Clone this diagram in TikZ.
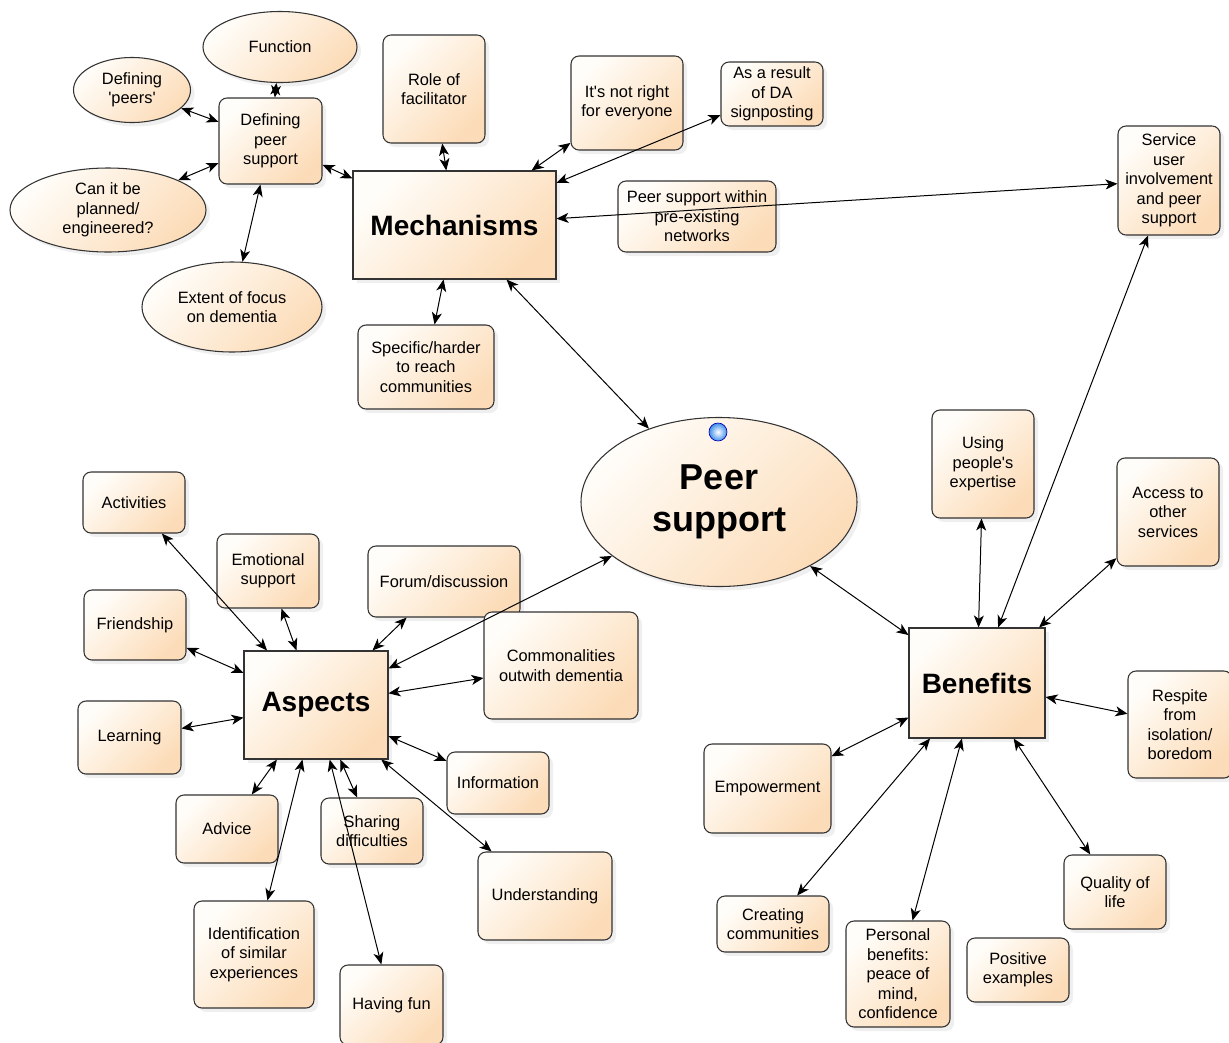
\documentclass[tikz,border=0pt]{standalone}
\usepackage{fontspec}
\setmainfont{Liberation Sans}
\usetikzlibrary{shapes.geometric,arrows.meta,shadows}
\pgfdeclarelayer{ghost}
\pgfsetlayers{ghost,main}
\definecolor{peachL}{HTML}{FFFDF9}
\definecolor{peachD}{HTML}{FCDCB8}
\definecolor{dotblue}{HTML}{3F8FEA}
\begin{document}
\begin{tikzpicture}[x=0.75pt,y=-0.75pt,
  base/.style={draw=black!80, line width=0.8pt, top color=peachL, bottom color=peachD, shading angle=45,
    align=center, inner sep=0pt, font=\fontsize{12.3}{14.6}\selectfont,
    drop shadow={shadow xshift=3pt,shadow yshift=-3pt,opacity=0.12}},
  rbox/.style={base, rectangle, rounded corners=6pt},
  sbox/.style={base, rectangle},
  ell/.style={base, ellipse},
  sz/.style 2 args={minimum width={#1*0.75pt}, minimum height={#2*0.75pt}},
  title/.style={font=\fontsize{21}{24}\selectfont\bfseries},
  conn/.style={<->, >={Stealth[length=9pt,width=7.5pt,inset=2.5pt]}, line width=0.75pt, black},
  ghost/.style={<->, >={Stealth[length=9pt,width=7.5pt,inset=2.5pt]}, line width=0.75pt, black!10,
    transform canvas={xshift=5pt,yshift=-5pt}}]
\useasboundingbox (0,0) rectangle (1229,1043);
\fill[white] (0,0) rectangle (1229,1043);
% ellipses
\node[ell, sz={154}{71}] (fun) at (280,47) {Function};
\node[ell, sz={117}{65}] (dpeers) at (132,90) {Defining\\\textquotesingle peers\textquotesingle};
\node[ell, sz={196}{84}] (plan) at (108,210) {Can it be\\planned/\\engineered?};
\node[ell, sz={180}{90}] (extent) at (232,307) {Extent of focus\\on dementia};
\node[ell, sz={276}{169}, font=\fontsize{27}{32}\selectfont\bfseries] (peer) at (719,502) {Peer\\support};
\node[circle, inner sep=0pt, minimum size=13.5pt, inner color=white, outer color=dotblue, draw=blue!70!black, line width=0.5pt] (dot) at (718,432) {};
% mechanisms group
\node[rbox, sz={103}{86}] (dps) at (270.5,141) {Defining\\peer\\support};
\node[rbox, sz={102}{108}] (role) at (434,89) {Role of\\facilitator};
\node[rbox, sz={112}{94}] (notright) at (627,103) {It\textquotesingle s not right\\for everyone};
\node[rbox, sz={102}{64}] (da) at (772,94) {As a result\\of DA\\signposting};
\node[sbox, sz={203}{108}, title] (mech) at (454.5,225) {Mechanisms};
\node[rbox, sz={158}{71}] (psw) at (697,216.5) {Peer support within\\pre-existing\\networks};
\node[rbox, sz={102}{109}] (sui) at (1169,180.5) {Service\\user\\involvement\\and peer\\support};
\node[rbox, sz={136}{84}] (spec) at (426,367) {Specific/harder\\to reach\\communities};
% aspects group
\node[rbox, sz={102}{61}] (act) at (134,502.5) {Activities};
\node[rbox, sz={102}{74}] (emo) at (268,571) {Emotional\\support};
\node[rbox, sz={152}{71}] (forum) at (444,581.5) {Forum/discussion};
\node[rbox, sz={102}{70}] (friend) at (135,625) {Friendship};
\node[rbox, sz={154}{107}] (comm) at (561,665.5) {Commonalities\\outwith dementia};
\node[sbox, sz={144}{108}, title] (asp) at (316,705) {Aspects};
\node[rbox, sz={103}{73}] (learn) at (129.5,737.5) {Learning};
\node[rbox, sz={102}{62}] (info) at (498,783) {Information};
\node[rbox, sz={102}{68}] (advice) at (227,829) {Advice};
\node[rbox, sz={102}{66}] (share) at (372,831) {Sharing\\difficulties};
\node[rbox, sz={134}{88}] (under) at (545,896) {Understanding};
\node[rbox, sz={120}{107}] (ident) at (254,954.5) {Identification\\of similar\\experiences};
\node[rbox, sz={103}{80}] (fun2) at (391.5,1005) {Having fun};
% benefits group
\node[rbox, sz={102}{108}] (upe) at (983,464) {Using\\people\textquotesingle s\\expertise};
\node[rbox, sz={102}{108}] (acc) at (1168,512) {Access to\\other\\services};
\node[sbox, sz={136}{110}, title] (ben) at (977,683) {Benefits};
\node[rbox, sz={127}{89}] (emp) at (767.5,788.5) {Empowerment};
\node[rbox, sz={104}{107}] (resp) at (1180,724.5) {Respite\\from\\isolation/\\boredom};
\node[rbox, sz={112}{56}] (creat) at (773,924) {Creating\\communities};
\node[rbox, sz={104}{106}] (pers) at (898,974) {Personal\\benefits:\\peace of\\mind,\\confidence};
\node[rbox, sz={102}{64}] (pos) at (1018,970) {Positive\\examples};
\node[rbox, sz={102}{74}] (qol) at (1115,892) {Quality of\\life};
% connectors
\def\edgelist{fun/dps, dpeers/dps, plan/dps, extent/dps, dps/mech, role/mech, notright/mech, da/mech, sui/mech, spec/mech, mech/peer, asp/peer, peer/ben, act/asp, emo/asp, friend/asp, forum/asp, comm/asp, learn/asp, info/asp, advice/asp, ident/asp, share/asp, fun2/asp, under/asp, upe/ben, sui/ben, acc/ben, resp/ben, emp/ben, creat/ben, pers/ben, qol/ben}
\begin{pgfonlayer}{ghost}
\foreach \a/\b in \edgelist { \draw[ghost] (\a) -- (\b); }
\end{pgfonlayer}
\foreach \a/\b in \edgelist { \draw[conn] (\a) -- (\b); }
\end{tikzpicture}
\end{document}
